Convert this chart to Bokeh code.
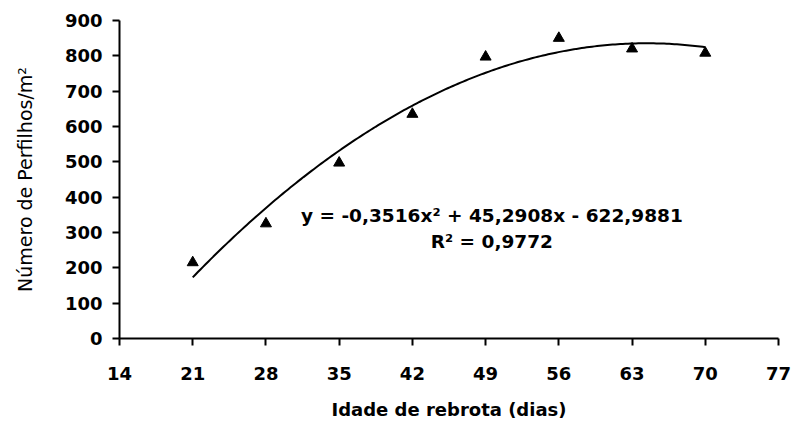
import numpy as np
from bokeh.plotting import figure
from bokeh.models import Range1d, FixedTicker, Label
from bokeh.embed import file_html
from bokeh.resources import INLINE

# data
idade = [21, 28, 35, 42, 49, 56, 63, 70]
perfilhos = [215, 325, 497, 635, 797, 850, 820, 808]
x_ticks = [14, 21, 28, 35, 42, 49, 56, 63, 70, 77]
y_ticks = [0, 100, 200, 300, 400, 500, 600, 700, 800, 900]
coef_a, coef_b, coef_c = -0.3516, 45.2908, -622.9881
eq_text = "y = -0,3516x² + 45,2908x - 622,9881"
r2_text = "R² = 0,9772"
x_title = "Idade de rebrota (dias)"
y_title = "Número de Perfilhos/m²"

FONT = "DejaVu Sans"

p = figure(width=797, height=423, output_backend="svg", toolbar_location=None,
           x_range=Range1d(14, 77), y_range=Range1d(0, 900),
           min_border_left=119, min_border_right=19, min_border_top=20, min_border_bottom=85)
p.outline_line_color = None
p.xgrid.visible = False
p.ygrid.visible = False

# trend line
xs = np.linspace(min(idade), max(idade), 200)
ys = coef_a * xs**2 + coef_b * xs + coef_c
p.line(xs, ys, line_color="black", line_width=2)

p.scatter(idade, perfilhos, marker="triangle", size=11, fill_color="black", line_color="black")

for ax in (p.xaxis, p.yaxis):
    ax.axis_line_color = "black"
    ax.axis_line_width = 2
    ax.major_tick_line_color = "black"
    ax.major_tick_line_width = 2
    ax.major_tick_out = 7
    ax.major_tick_in = 0
    ax.minor_tick_line_color = None
    ax.major_label_text_font = FONT
    ax.major_label_text_font_style = "bold"
    ax.major_label_text_font_size = "18px"
    ax.major_label_text_color = "black"
    ax.axis_label_text_color = "black"
    ax.axis_label_text_font = FONT

p.xaxis.ticker = FixedTicker(ticks=x_ticks)
p.yaxis.ticker = FixedTicker(ticks=y_ticks)
p.xaxis.major_label_standoff = 21
p.yaxis.major_label_standoff = 10

p.xaxis.axis_label = x_title
p.xaxis.axis_label_text_font_style = "bold"
p.xaxis.axis_label_text_font_size = "18px"
p.xaxis.axis_label_standoff = 16

p.yaxis.axis_label = y_title
p.yaxis.axis_label_text_font_style = "normal"
p.yaxis.axis_label_text_font_size = "19px"
p.yaxis.axis_label_standoff = 26

p.add_layout(Label(x=49.6, y=348, text=eq_text, text_align="center", text_baseline="middle",
                   text_font=FONT, text_font_style="bold", text_font_size="18.5px", text_color="black"))
p.add_layout(Label(x=49.6, y=275, text=r2_text, text_align="center", text_baseline="middle",
                   text_font=FONT, text_font_style="bold", text_font_size="18.5px", text_color="black"))

open("out.html", "w").write(file_html(p, INLINE))
